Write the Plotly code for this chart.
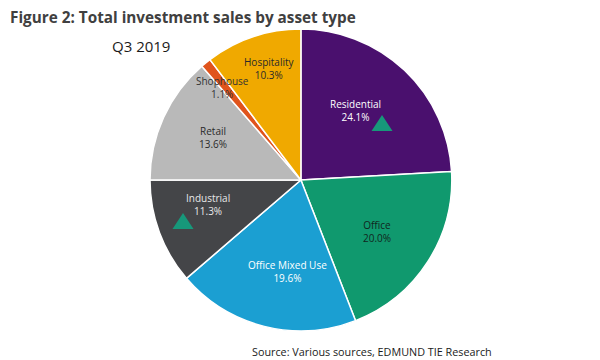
import plotly.graph_objects as go

categories = ["Residential", "Office", "Office Mixed Use", "Industrial", "Retail", "Shophouse", "Hospitality"]
shares = [24.1, 20.0, 19.6, 11.3, 13.6, 1.1, 10.3]
colors = ["#4a106e", "#10996e", "#1b9fd2", "#444548", "#b9b9b9", "#e0541c", "#f0a900"]
text_colors = ["#ffffff", "#10261d", "#ffffff", "#e8e8e8", "#2a2a2a", "#333333", "#2a2a2a"]
# label centres (px) as placed in the source chart
label_pos = [(355, 110), (377, 231), (287, 271), (208, 204), (213, 137), (222, 87), (269, 68)]
# categories carrying an up-trend marker, with marker centre (px)
trend_up = ["Residential", "Industrial"]
trend_pos = [(382, 123), (183, 221)]

W, H = 600, 360


def px(x, y):
    return x / W, 1 - y / H


fig = go.Figure()
fig.add_trace(go.Pie(
    labels=categories,
    values=shares,
    textinfo="none",
    sort=False,
    direction="clockwise",
    rotation=0,
    marker=dict(colors=colors, line=dict(color="#ffffff", width=1.5)),
    domain=dict(x=[0.25, 0.753], y=[0.078, 0.922]),
    showlegend=False,
    hoverinfo="label+percent",
))

annotations = []
tx, ty = px(8, 17)
annotations.append(dict(text="<b>Figure 2: Total investment sales by asset type</b>", x=tx, y=ty,
                        xref="paper", yref="paper", xanchor="left", yanchor="middle", showarrow=False,
                        font=dict(family="Open Sans", size=15.3, color="#404040")))
qx, qy = px(110, 46)
annotations.append(dict(text="Q3 2019", x=qx, y=qy, xref="paper", yref="paper",
                        xanchor="left", yanchor="middle", showarrow=False,
                        font=dict(family="Open Sans", size=15, color="#1a1a1a")))
sx, sy = px(250, 351)
annotations.append(dict(text="Source: Various sources, EDMUND TIE Research", x=sx, y=sy,
                        xref="paper", yref="paper", xanchor="left", yanchor="middle", showarrow=False,
                        font=dict(family="Open Sans", size=10.8, color="#1a1a1a")))
for c, v, col, pos in zip(categories, shares, text_colors, label_pos):
    lx, ly = px(*pos)
    annotations.append(dict(text=f"{c}<br>{v:.1f}%", x=lx, y=ly, xref="paper", yref="paper",
                            xanchor="center", yanchor="middle", showarrow=False,
                            font=dict(family="Open Sans", size=10, color=col)))

shapes = []
for (cx, cy) in trend_pos:
    p1 = px(cx - 10.5, cy + 8)
    p2 = px(cx, cy - 8)
    p3 = px(cx + 10.5, cy + 8)
    path = f"M {p1[0]},{p1[1]} L {p2[0]},{p2[1]} L {p3[0]},{p3[1]} Z"
    shapes.append(dict(type="path", path=path, xref="paper", yref="paper",
                       fillcolor="#17987a", line=dict(width=0), layer="above"))

fig.update_layout(
    width=W, height=H,
    margin=dict(l=0, r=0, t=0, b=0),
    paper_bgcolor="#ffffff",
    plot_bgcolor="rgba(0,0,0,0)",
    annotations=annotations,
    shapes=shapes,
)

fig.write_html("out.html", config={"displayModeBar": False},
               post_script="document.body.style.margin='0';document.body.style.overflow='hidden';")
